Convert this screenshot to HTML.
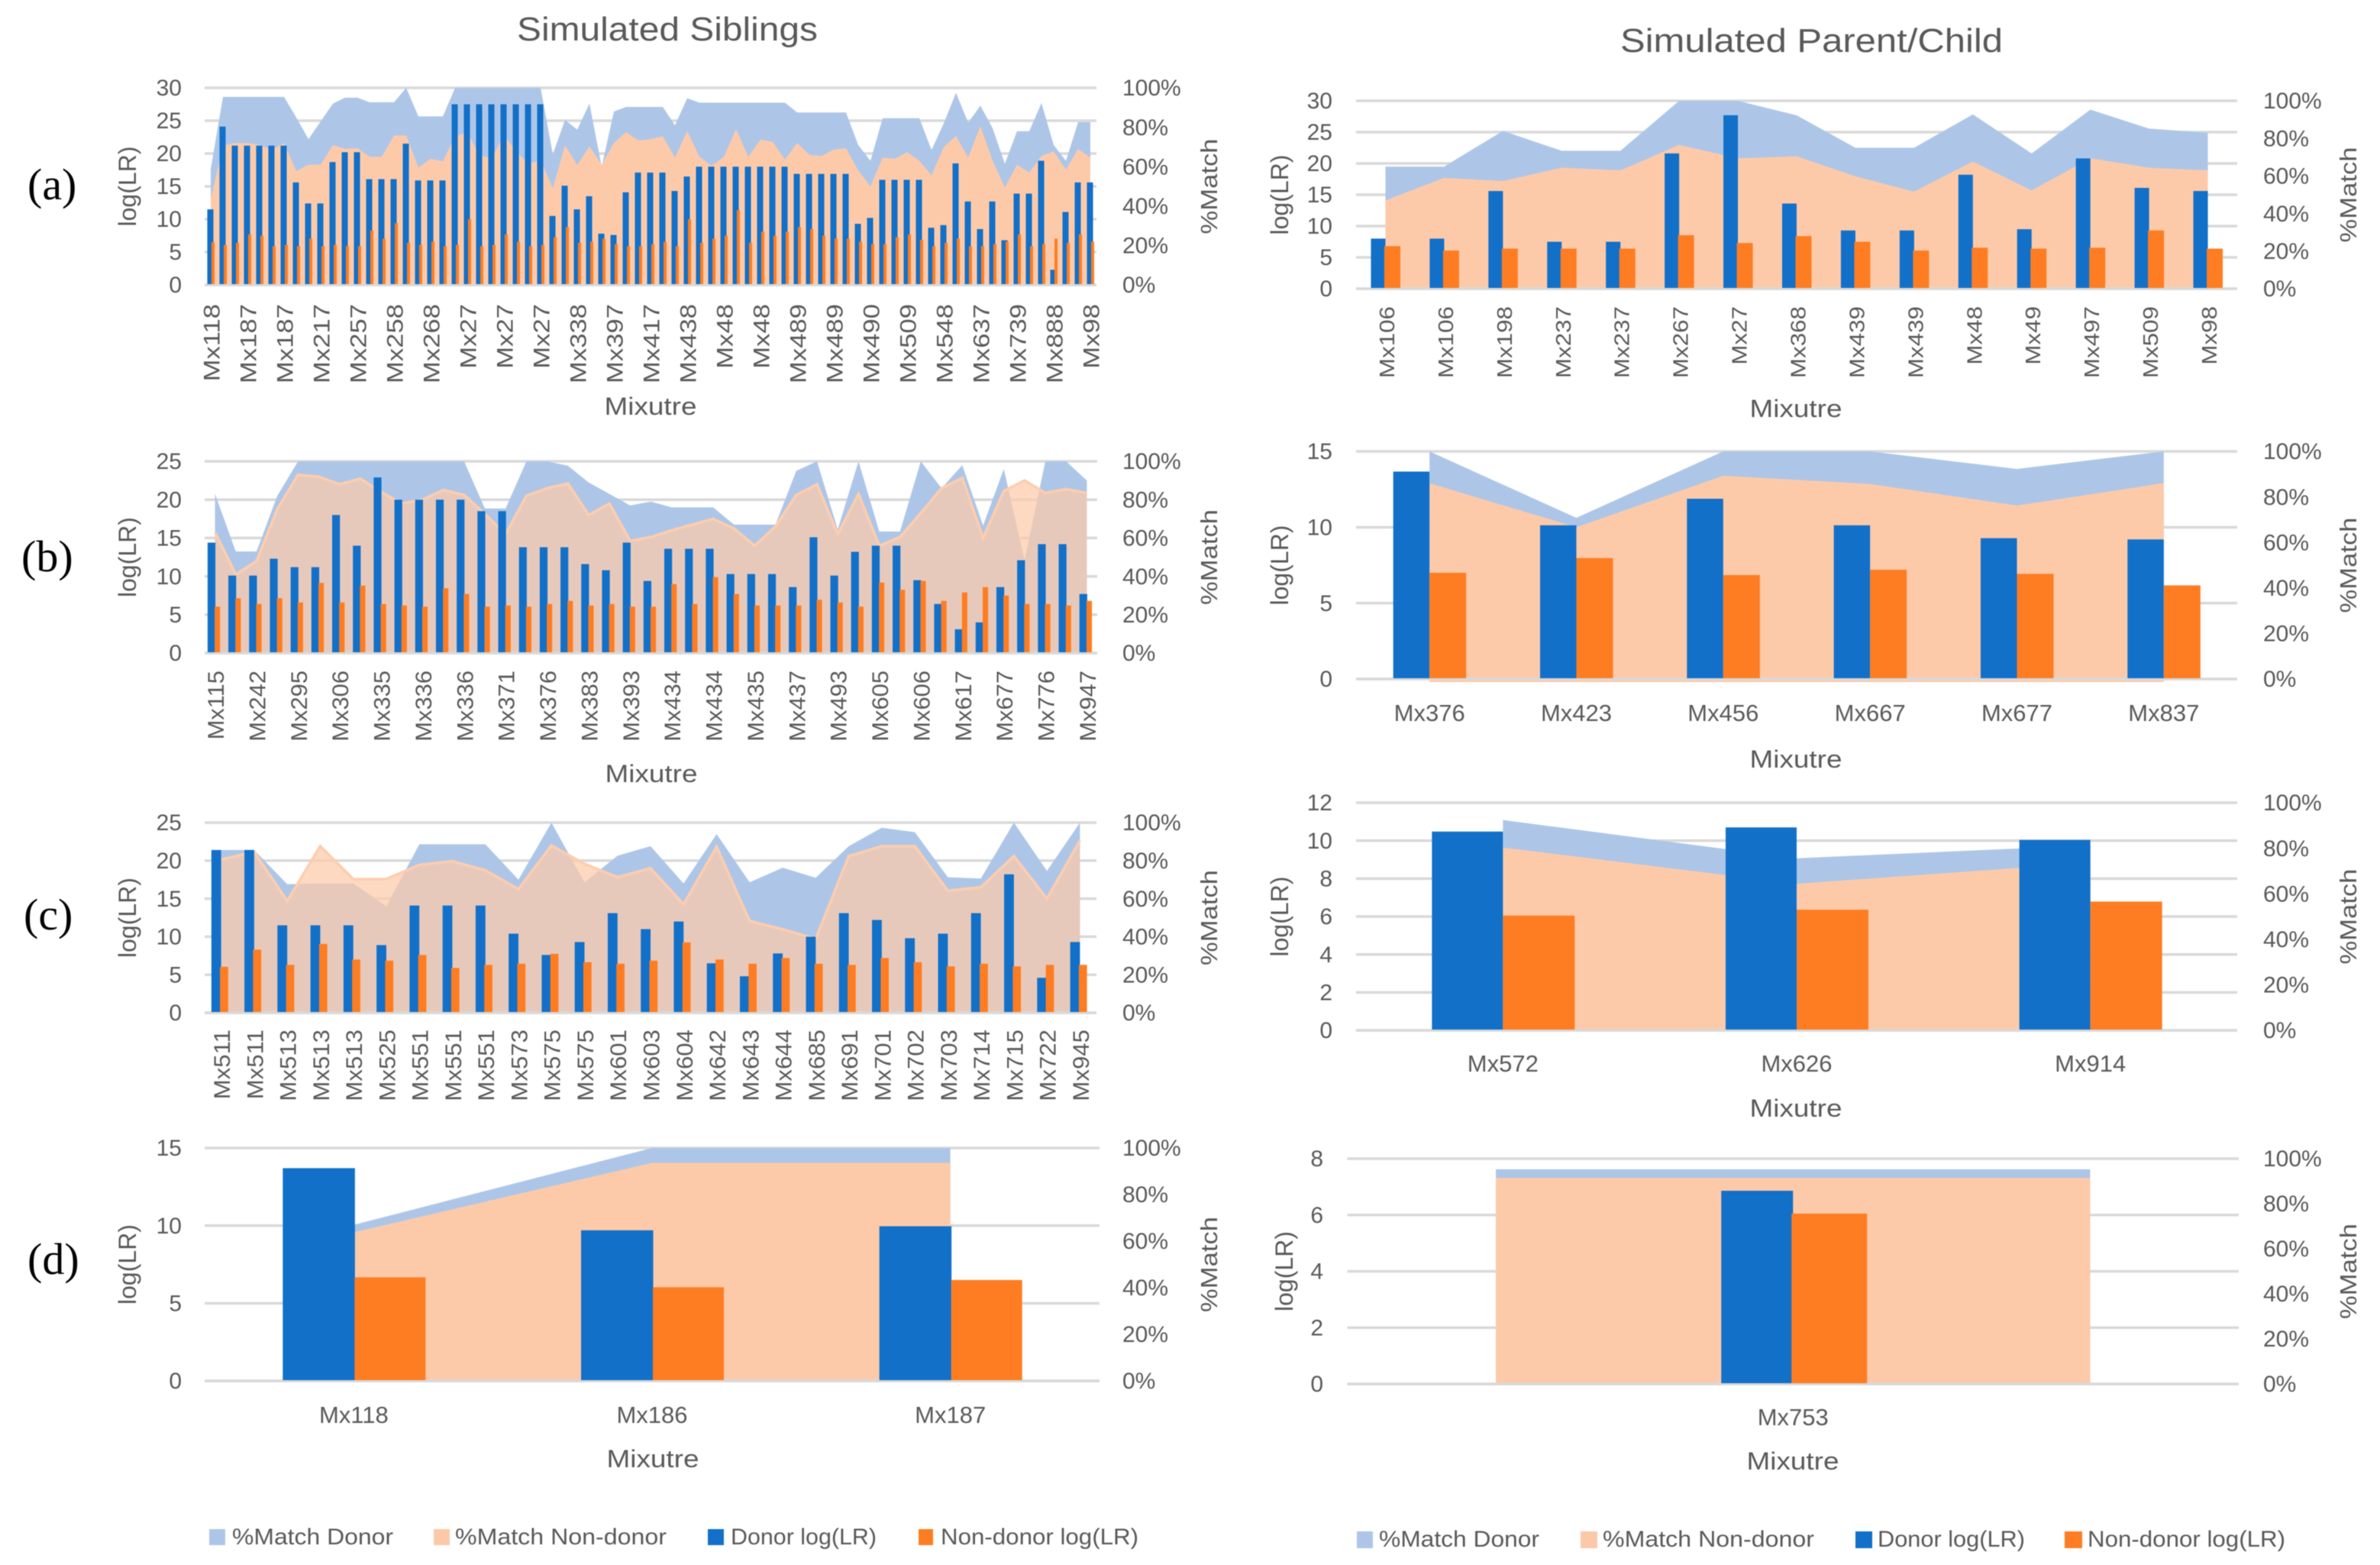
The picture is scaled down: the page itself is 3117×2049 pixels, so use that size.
<!DOCTYPE html>
<html lang="en">
<head>
<meta charset="utf-8">
<title>Simulated Siblings and Parent/Child log(LR) and %Match charts</title>
<style>
html,body{margin:0;padding:0;background:#fff;}
body{width:3117px;height:2049px;overflow:hidden;}
svg{display:block;filter:blur(.6px);}
text{font-family:"Liberation Sans",sans-serif;fill:#595959;}
.letter{font-family:"Liberation Serif",serif;fill:#000;font-size:58px;}
</style>
</head>
<body>
<svg id="figure" xmlns="http://www.w3.org/2000/svg" width="3117" height="2049" viewBox="0 0 3117 2049">
  <text x="677" y="53" font-size="44" textLength="394" lengthAdjust="spacingAndGlyphs">Simulated Siblings</text>
  <text x="2122" y="68" font-size="44" textLength="501" lengthAdjust="spacingAndGlyphs">Simulated Parent/Child</text>
  <text class="letter" x="36" y="261">(a)</text>
  <text class="letter" x="28" y="748">(b)</text>
  <text class="letter" x="31" y="1217">(c)</text>
  <text class="letter" x="36" y="1668">(d)</text>
  <g id="panels"></g>
  <g>
    <g><rect x="274" y="2002" width="21" height="21" fill="#adc6e8"/><text x="304" y="2022" font-size="30" textLength="211" lengthAdjust="spacingAndGlyphs">%Match Donor</text></g>
    <g><rect x="568" y="2002" width="21" height="21" fill="#fcc9a8"/><text x="596" y="2022" font-size="30" textLength="277" lengthAdjust="spacingAndGlyphs">%Match Non-donor</text></g>
    <g><rect x="927" y="2002" width="21" height="21" fill="#1270c8"/><text x="957" y="2022" font-size="30" textLength="191" lengthAdjust="spacingAndGlyphs">Donor log(LR)</text></g>
    <g><rect x="1203" y="2002" width="19" height="21" fill="#fe7d22"/><text x="1232" y="2022" font-size="30" textLength="259" lengthAdjust="spacingAndGlyphs">Non-donor log(LR)</text></g>
  </g>
  <g>
    <g><rect x="1777" y="2005" width="21" height="22" fill="#adc6e8"/><text x="1806" y="2025" font-size="30" textLength="210" lengthAdjust="spacingAndGlyphs">%Match Donor</text></g>
    <g><rect x="2070" y="2005" width="22" height="22" fill="#fcc9a8"/><text x="2099" y="2025" font-size="30" textLength="277" lengthAdjust="spacingAndGlyphs">%Match Non-donor</text></g>
    <g><rect x="2430" y="2005" width="22" height="22" fill="#1270c8"/><text x="2459" y="2025" font-size="30" textLength="193" lengthAdjust="spacingAndGlyphs">Donor log(LR)</text></g>
    <g><rect x="2704" y="2005" width="23" height="22" fill="#fe7d22"/><text x="2734" y="2025" font-size="30" textLength="259" lengthAdjust="spacingAndGlyphs">Non-donor log(LR)</text></g>
  </g>
</svg>
<script>
// ---- shared tick labels ----
const percentTicks = [0, 20, 40, 60, 80, 100];

// ---- (a) siblings ----
const aSibLabels = ["Mx118","Mx187","Mx187","Mx217","Mx257","Mx258","Mx268","Mx27","Mx27","Mx27","Mx338","Mx397","Mx417","Mx438","Mx48","Mx48","Mx489","Mx489","Mx490","Mx509","Mx548","Mx637","Mx739","Mx888","Mx98"];
const aSibTicks = [0,5,10,15,20,25,30];
const aSibDonor = [11.5,24.1,21.2,21.2,21.2,21.2,21.2,15.6,12.4,12.4,18.7,20.2,20.2,16.1,16.1,16.1,21.5,15.9,15.9,15.9,27.5,27.5,27.5,27.5,27.5,27.5,27.5,27.5,10.5,15.1,11.5,13.5,7.8,7.6,14.1,17.1,17.1,17.1,14.3,16.5,18,18,18,18,18,18,18,18,16.9,16.9,16.9,16.9,16.9,9.3,10.2,16,16,16,16,8.7,9.1,18.5,12.7,8.5,12.7,6.8,13.9,13.9,18.9,2.3,11.1,15.6,15.6];
const aSibNonDonor = [6.5,6.1,6.4,7.7,7.5,5.9,6.1,5.9,7.05,5.9,6.1,5.9,5.9,8.3,7.05,9.4,6.4,6.1,6.6,5.9,6.1,10,5.9,6.1,7.7,6.6,5.9,6.1,7.25,8.8,6.4,6.6,7.05,6.2,5.9,5.9,6.2,6.55,5.9,10,6.4,7.05,7.5,11.4,6.4,8.1,7.5,8.1,8.8,8.5,7.5,7.05,7.05,6.6,6.2,6.2,7.25,7.7,6.85,5.9,6.4,7.05,5.9,5.9,6.2,6.6,7.7,5.9,6.2,7.05,6.4,7.7,6.6];
const aSibMatchDonor = [58.8,95.4,95.4,95.4,95.4,95.4,95.4,85,74,83,92,95,95,92.7,92.7,92.7,100,85.5,85.5,85.5,100,100,100,100,100,100,100,100,66.4,83.7,78.8,92,60,88,90.3,90.3,90.3,90.3,81,94.7,92.5,92.5,92.5,92.5,92.5,92.5,92.5,92.5,87.5,87.5,87.5,87.5,87.5,71,63,84.6,84.6,84.6,84.6,68.5,82,97.5,82.3,91,79.5,61.5,78,78,92.3,71,63,82.6,82.6];
const aSibMatchNonDonor = [43.6,70.8,72,72,71,68.5,72,57.7,61,61,71,69,69.4,65,65,75.8,75.8,59.5,64,62.7,75.4,77.5,65.7,64.3,76,67.8,61.5,63.3,49,70.8,60.9,70.3,61,72,77.5,73.3,74,75.4,64.6,78,65,60.4,65,79,65,73.7,72.6,63.6,72,66,65.4,68.7,69.4,58,50,64.6,64,67.4,63,55.6,70,75.6,64.6,80.6,63,49.4,61,57,65.4,67.8,58.5,69,64.6];

// ---- (b) siblings ----
const bSibLabels = ["Mx115","Mx242","Mx295","Mx306","Mx335","Mx336","Mx336","Mx371","Mx376","Mx383","Mx393","Mx434","Mx434","Mx435","Mx437","Mx493","Mx605","Mx606","Mx617","Mx677","Mx776","Mx947"];
const bSibTicks = [0,5,10,15,20,25];
const bSibDonor = [14.4,10.1,10.1,12.3,11.2,11.2,18,14,22.9,20,20,20,20,18.5,18.5,13.8,13.8,13.8,11.6,10.8,14.4,9.4,13.6,13.6,13.6,10.3,10.3,10.3,8.6,15.1,10.1,13.2,14,14,9.5,6.4,3.1,4,8.6,12.1,14.2,14.2,7.7];
const bSibNonDonor = [6.05,7.15,6.4,7.15,6.6,9.15,6.6,8.8,6.4,6.2,6.05,8.45,7.7,6.05,6.2,6.05,6.4,6.8,6.2,6.4,6.05,6.05,9,6.4,9.9,7.7,6.2,6.2,6.2,6.95,6.6,6.05,9.2,8.25,9.4,6.8,7.9,8.6,7.5,6.4,6.4,6.2,6.8];
const bSibMatchDonor = [83,53,53,82,100,100,100,100,100,100,100,100,100,75.4,75.4,100,100,97.7,89,83,77,79,76,76,76,67,67,67,95,100,64.5,100,63.4,63.4,100,86,98,66.5,96,48.5,100,100,90];
const bSibMatchNonDonor = [63,41,48,75,93,92,88,91,84,78,80,85,82.5,72.5,62,82,86,88.5,72,78,58.5,60.5,64,67,70,65,56,66,82.5,88,62,83,56,60.5,73,86,91.3,60,84.5,90,83.5,85.5,83.5];

// ---- (c) siblings ----
const cSibLabels = ["Mx511","Mx511","Mx513","Mx513","Mx513","Mx525","Mx551","Mx551","Mx551","Mx573","Mx575","Mx575","Mx601","Mx603","Mx604","Mx642","Mx643","Mx644","Mx685","Mx691","Mx701","Mx702","Mx703","Mx714","Mx715","Mx722","Mx945"];
const cSibTicks = [0,5,10,15,20,25];
const cSibDonor = [21.4,21.4,11.5,11.5,11.5,8.9,14.1,14.1,14.1,10.4,7.6,9.3,13.1,11,12,6.5,4.8,7.8,10,13.1,12.2,9.8,10.4,13.1,18.2,4.6,9.3];
const cSibNonDonor = [6.05,8.3,6.3,9.05,7,6.85,7.6,5.9,6.3,6.45,7.75,6.65,6.45,6.85,9.25,7,6.45,7.2,6.45,6.3,7.2,6.65,6.1,6.45,6.1,6.3,6.3];
const cSibMatchDonor = [85.6,85.6,67.6,68,68,56,88.6,88.6,88.6,70,100,68.6,82.6,87.6,68,94,68.6,76.3,71,87.6,97.3,95,71.3,70.6,100,74.6,100];
const cSibMatchNonDonor = [80.6,84.6,58.8,87.6,70.3,70.3,77.8,79.7,74.9,65,88,78.3,71.3,76,57,87.3,48.3,43.9,38.9,82.4,87.6,87.6,64.2,66,82.4,60,90.6];

// ---- (d) siblings ----
const dSibLabels = ["Mx118","Mx186","Mx187"];
const dSibTicks = [0,5,10,15];
const dSibDonor = [13.7,9.7,9.96];
const dSibNonDonor = [6.67,6.03,6.5];
const dSibMatchDonor = [67,100,100];
const dSibMatchNonDonor = [63.8,93.6,93.6];

// ---- (a) parent/child ----
const aParLabels = ["Mx106","Mx106","Mx198","Mx237","Mx237","Mx267","Mx27","Mx368","Mx439","Mx439","Mx48","Mx49","Mx497","Mx509","Mx98"];
const aParTicks = [0,5,10,15,20,25,30];
const aParDonor = [8,8,15.6,7.5,7.5,21.6,27.7,13.6,9.3,9.3,18.2,9.5,20.8,16.1,15.6];
const aParNonDonor = [6.8,6.1,6.4,6.4,6.4,8.55,7.3,8.4,7.5,6.1,6.55,6.4,6.55,9.3,6.4];
const aParMatchDonor = [65,65,84,73.4,73.4,100,100,92.3,75,75,92.8,72,95.3,85.2,83];
const aParMatchNonDonor = [47,59,57.3,64.4,63,76.5,69.4,70.5,59.8,51.7,67.7,52.3,69.4,64.4,63];

// ---- (b) parent/child ----
const bParLabels = ["Mx376","Mx423","Mx456","Mx667","Mx677","Mx837"];
const bParTicks = [0,5,10,15];
const bParDonor = [13.67,10.13,11.88,10.13,9.28,9.2];
const bParNonDonor = [7,7.97,6.85,7.2,6.93,6.17];
const bParMatchDonor = [100,70.8,100,100,92.3,100];
const bParMatchNonDonor = [86,66.7,89.3,85.7,76.2,86.1];

// ---- (c) parent/child ----
const cParLabels = ["Mx572","Mx626","Mx914"];
const cParTicks = [0,2,4,6,8,10,12];
const cParDonor = [10.48,10.7,10.04];
const cParNonDonor = [6.05,6.36,6.79];
const cParMatchDonor = [92.4,75.6,81.3];
const cParMatchNonDonor = [80.3,64.4,73.6];

// ---- (d) parent/child ----
const dParLabels = ["Mx753"];
const dParTicks = [0,2,4,6,8];
const dParDonor = [6.86];
const dParNonDonor = [6.05];
const dParMatchDonor = [95.3];
const dParMatchNonDonor = [91.5];

const SVG_NS = "http://www.w3.org/2000/svg";
const panelsRoot = document.getElementById("panels");

function make(tag, parent, attrs, txt) {
  const n = document.createElementNS(SVG_NS, tag);
  for (const k in attrs) n.setAttribute(k, attrs[k]);
  if (txt !== undefined) n.textContent = txt;
  parent.appendChild(n);
  return n;
}

function drawPanel(c) {
  const n = c.donor.length;
  const step = (c.x1 - c.x0) / n;
  const xC = i => c.x0 + (i + 0.5) * step;
  const yL = v => c.y1 - (c.y1 - c.y0) * v / c.ticks[c.ticks.length - 1];
  const yR = p => c.y1 - (c.y1 - c.y0) * p / 100;

  const g = make("g", panelsRoot, {});
  
  

  // gridlines and left axis ticks
  c.ticks.forEach(t => {
    const line = make("line", g, {x1: c.x0, x2: c.x1, y1: yL(t), y2: yL(t), stroke: "#d9d9d9", "stroke-width": 3.5});
    
    
    const lab = make("text", g, {x: c.leftTickX, y: yL(t) + 10.2, "font-size": 30, "text-anchor": "end"}, String(t));
    
    
  });

  // right axis ticks
  percentTicks.forEach(t => {
    const lab = make("text", g, {x: c.rightTickX, y: yR(t) + 10.2, "font-size": 30}, t + "%");
    
    
  });

  // area series
  const ptsFor = arr => {
    if (n === 1) {
      const half = (c.x1 - c.x0) / 3;
      return [[xC(0) - half, yR(arr[0])], [xC(0) + half, yR(arr[0])]];
    }
    return arr.map((p, i) => [xC(i), yR(p)]);
  };
  const areaPath = (pts, base) => "M" + pts[0][0] + "," + base + " " + pts.map(q => "L" + q[0] + "," + q[1]).join(" ") + " L" + pts[pts.length - 1][0] + "," + base + " Z";

  const donorPts = ptsFor(c.matchDonor);
  const areaD = make("path", g, {d: areaPath(donorPts, c.y1), fill: "#adc6e8"});
  
  

  const nonPts = ptsFor(c.matchNonDonor);
  const areaN = make("path", g, {d: areaPath(nonPts, c.y1 + (c.areaDrop || 0)), fill: "#fdcaa9", "fill-opacity": c.areaOpacity});
  
  

  if (c.areaOpacity < 1) {
    const edge = make("polyline", g, {points: nonPts.map(q => q.join(",")).join(" "), fill: "none", stroke: "#fdcdae", "stroke-width": 3.5});
    
    
  }

  const base = make("line", g, {x1: c.x0, x2: c.x1, y1: c.y1, y2: c.y1, stroke: "#d9d9d9", "stroke-width": 3.5});
  
  

  // bars
  c.donor.forEach((v, i) => {
    const r = make("rect", g, {x: xC(i) + c.donorBar[0], y: yL(v), width: c.donorBar[1] - c.donorBar[0], height: c.y1 - yL(v) - 1, fill: "#1270c8"});
    
    
  });
  c.nonDonor.forEach((v, i) => {
    const r = make("rect", g, {x: xC(i) + c.nonDonorBar[0], y: yL(v), width: c.nonDonorBar[1] - c.nonDonorBar[0], height: c.y1 - yL(v) - 1, fill: "#fe7d22"});
    
    
  });

  // category labels
  c.labels.forEach((s, k) => {
    const cx = xC(k * c.labelStep);
    let t;
    if (c.rotate) {
      t = make("text", g, {transform: "translate(" + (cx + 11.5) + "," + c.labelY + ") rotate(-90) scale(" + c.labelScale + ",1)", "font-size": c.labelFont, "text-anchor": "end"}, s);
    } else {
      t = make("text", g, {x: cx, y: c.labelY, "font-size": 31, "text-anchor": "middle"}, s);
    }
    
    
  });

  // axis titles
  const yMid = (c.y0 + c.y1) / 2;
  const lt = make("text", g, {transform: "translate(" + (c.logTitleX + 10) + "," + yMid + ") rotate(-90)", "font-size": 32, "text-anchor": "middle", textLength: 105, lengthAdjust: "spacingAndGlyphs"}, "log(LR)");
  
  

  const rt = make("text", g, {transform: "translate(" + (c.matchTitleX + 11) + "," + yMid + ") rotate(-90)", "font-size": 31, "text-anchor": "middle", textLength: 125, lengthAdjust: "spacingAndGlyphs"}, "%Match");
  
  

  if (c.mixX !== undefined) {
    const xt = make("text", g, {x: c.mixX, y: c.mixY, "font-size": 32, "text-anchor": "middle", textLength: 121, lengthAdjust: "spacingAndGlyphs"}, "Mixutre");
    
    
  }
}

const sibAxis = {leftTickX: 238, rightTickX: 1470, logTitleX: 168, matchTitleX: 1583};
const parAxis = {leftTickX: 1745, rightTickX: 2964, logTitleX: 1677, matchTitleX: 3075};

drawPanel(Object.assign({}, sibAxis, {name: "siblings-panel-a", x0: 268, x1: 1436, y0: 115, y1: 373, ticks: aSibTicks, donor: aSibDonor, nonDonor: aSibNonDonor, matchDonor: aSibMatchDonor, matchNonDonor: aSibMatchNonDonor, labels: aSibLabels, labelStep: 3, rotate: true, labelY: 398, labelScale: 1.155, labelFont: 30, donorBar: [-4.5, 3.5], nonDonorBar: [1, 5], areaOpacity: 1, mixX: 852, mixY: 543}));

drawPanel(Object.assign({}, sibAxis, {name: "siblings-panel-b", x0: 268, x1: 1437, y0: 604, y1: 855, ticks: bSibTicks, donor: bSibDonor, nonDonor: bSibNonDonor, matchDonor: bSibMatchDonor, matchNonDonor: bSibMatchNonDonor, labels: bSibLabels, labelStep: 2, rotate: true, labelY: 878, labelScale: 1.03, labelFont: 30, donorBar: [-9.7, 0.5], nonDonorBar: [-0.5, 6.6], areaOpacity: 0.72, mixX: 853, mixY: 1024}));

drawPanel(Object.assign({}, sibAxis, {name: "siblings-panel-c", x0: 268, x1: 1436, y0: 1077, y1: 1326, ticks: cSibTicks, donor: cSibDonor, nonDonor: cSibNonDonor, matchDonor: cSibMatchDonor, matchNonDonor: cSibMatchNonDonor, labels: cSibLabels, labelStep: 1, rotate: true, labelY: 1348, labelScale: 1.04, labelFont: 30, donorBar: [-12.8, 0], nonDonorBar: [-1.5, 9.2], areaOpacity: 0.72}));

drawPanel(Object.assign({}, sibAxis, {name: "siblings-panel-d", x0: 268, x1: 1440, y0: 1503, y1: 1808, ticks: dSibTicks, donor: dSibDonor, nonDonor: dSibNonDonor, matchDonor: dSibMatchDonor, matchNonDonor: dSibMatchNonDonor, labels: dSibLabels, labelStep: 1, rotate: false, labelY: 1863, donorBar: [-93, 1.5], nonDonorBar: [1, 94], areaOpacity: 1, mixX: 855, mixY: 1921}));

drawPanel(Object.assign({}, parAxis, {name: "parent-child-panel-a", x0: 1776, x1: 2930, y0: 132, y1: 378, ticks: aParTicks, donor: aParDonor, nonDonor: aParNonDonor, matchDonor: aParMatchDonor, matchNonDonor: aParMatchNonDonor, labels: aParLabels, labelStep: 1, rotate: true, labelY: 401, labelScale: 1.12, labelFont: 28, donorBar: [-19, 0], nonDonorBar: [-1.5, 19.5], areaOpacity: 1, mixX: 2352, mixY: 546}));

drawPanel(Object.assign({}, parAxis, {name: "parent-child-panel-b", x0: 1776, x1: 2930, y0: 591, y1: 889, ticks: bParTicks, donor: bParDonor, nonDonor: bParNonDonor, matchDonor: bParMatchDonor, matchNonDonor: bParMatchNonDonor, labels: bParLabels, labelStep: 1, rotate: false, labelY: 944, donorBar: [-47.5, 0], nonDonorBar: [0, 48], areaOpacity: 1, areaDrop: 4, mixX: 2352, mixY: 1005}));

drawPanel(Object.assign({}, parAxis, {name: "parent-child-panel-c", x0: 1776, x1: 2930, y0: 1051, y1: 1349, ticks: cParTicks, donor: cParDonor, nonDonor: cParNonDonor, matchDonor: cParMatchDonor, matchNonDonor: cParMatchNonDonor, labels: cParLabels, labelStep: 1, rotate: false, labelY: 1403, donorBar: [-93, 0], nonDonorBar: [0, 94], areaOpacity: 1, mixX: 2352, mixY: 1462}));

drawPanel(Object.assign({}, parAxis, {name: "parent-child-panel-d", leftTickX: 1733, logTitleX: 1683, x0: 1764.5, x1: 2932, y0: 1517, y1: 1812, ticks: dParTicks, donor: dParDonor, nonDonor: dParNonDonor, matchDonor: dParMatchDonor, matchNonDonor: dParMatchNonDonor, labels: dParLabels, labelStep: 1, rotate: false, labelY: 1866, donorBar: [-94, 0], nonDonorBar: [-2, 97], areaOpacity: 1, mixX: 2348, mixY: 1924}));
</script>
</body>
</html>
